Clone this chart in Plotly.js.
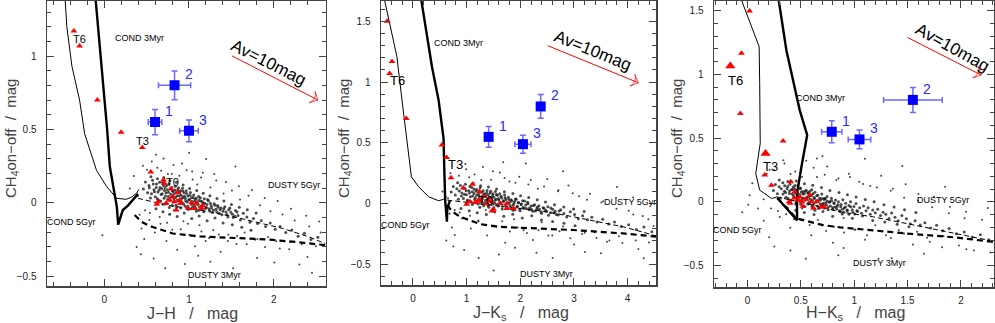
<!DOCTYPE html>
<html>
<head>
<meta charset="utf-8">
<script src="https://cdn.plot.ly/plotly-3.0.1.min.js"></script>
<style>
  html, body { margin: 0; padding: 0; background: #fff; }
  #chart { width: 995px; height: 323px; }
</style>
</head>
<body>
<div id="chart"></div>
<script>
// ---- blue sources 1-3 ----
const srcNames = ['1', '2', '3'];
const srcCH4 = [0.55, 0.80, 0.49];
const srcCH4Err = [0.086, 0.098, 0.074];
const srcJH = [0.60, 0.83, 1.00];
const srcJHErr = [0.08, 0.19, 0.11];
const srcJK = [1.41, 2.38, 2.05];
const srcJKErr = [0.04, 0.07, 0.15];
const srcHK = [0.79, 1.55, 1.05];
const srcHKErr = [0.095, 0.275, 0.106];

// ---- red T dwarf templates ----
const triJH_x = [-0.357, -0.29, -0.08, 0.20, 0.45, 0.55, 0.70, 0.71, 0.79, 0.87, 0.635, 0.62, 0.73, 0.77, 0.81, 0.83, 0.89, 0.90, 0.85, 0.99, 1.03, 1.09, 1.07, 1.15, 1.16];
const triJH_y = [1.17, 1.068, 0.70, 0.48, 0.377, 0.21, 0.155, 0.13, 0.093, 0.07, 0.007, -0.01, -0.004, 0.018, 0.04, 0.007, 0.018, -0.005, -0.05, -0.038, 0.0, -0.004, -0.04, -0.038, -0.02];
const triJK_x = [-0.48, -0.39, -0.435, -0.125, 0.54, 0.63, 0.71, 0.94, 1.11, 1.24, 1.0, 1.06, 1.16, 1.25, 1.32, 1.41, 1.47, 1.38, 1.50, 1.47, 1.63, 1.75, 1.75, 1.87, 1.20];
const triJK_y = [1.50, 1.17, 1.07, 0.70, 0.483, 0.38, 0.214, 0.13, 0.16, 0.10, -0.005, 0.016, 0.01, 0.03, 0.06, 0.03, 0.02, 0.0, -0.046, -0.06, 0.003, 0.003, -0.04, -0.04, 0.02];
const triHK_x = [0.02, -0.056, -0.066, 0.334, 0.162, 0.225, 0.406, 0.443, 0.49, 0.39, 0.40, 0.474, 0.51, 0.584, 0.60, 0.52, 0.65, 0.62, 0.69, 0.72, 0.44, 0.55];
const triHK_y = [1.498, 1.166, 0.694, 0.477, 0.21, 0.13, 0.157, 0.079, 0.04, 0.0, -0.01, 0.013, 0.0, 0.053, 0.0, -0.034, 0.0, -0.05, -0.04, -0.04, 0.03, 0.02];
const triHKbig_x = [-0.16, 0.17];
const triHKbig_y = [1.066, 0.38];

const tNames = ['T6', 'T3', 'T0'];
const tJH_x = [-0.29, 0.45, 0.80];
const tJH_y = [1.115, 0.42, 0.143];
const tJK_x = [-0.28, 0.79, 1.35];
const tJK_y = [1.01, 0.324, 0.03];
const tHK_x = [-0.11, 0.22];
const tHK_y = [0.956, 0.275];

// ---- model tracks [colour, CH4] ----
const cond3JH = [[-0.10, 1.38], [-0.04, 1.0], [0.035, 0.5], [0.067, 0.245], [0.134, 0.04], [0.15, -0.03], [0.165, -0.15], [0.22, -0.05], [0.28, -0.02], [0.34, 0.02], [0.40, 0.06]];
const cond5JH = [[-0.46, 1.38], [-0.44, 1.2], [-0.38, 0.93], [-0.29, 0.70], [-0.23, 0.47], [-0.09, 0.22], [0.03, 0.11], [0.146, 0.03], [0.26, 0.023], [0.32, 0.037], [0.38, 0.064], [0.41, 0.09]];
const dusty5JH = [[0.40, 0.03], [0.73, -0.016], [1.13, -0.05], [1.52, -0.095], [2.1, -0.175], [2.4, -0.23], [2.61, -0.28]];
const dusty3JH = [[0.36, -0.084], [0.44, -0.13], [0.54, -0.16], [0.81, -0.21], [1.13, -0.23], [1.52, -0.24], [1.91, -0.25], [2.3, -0.27], [2.61, -0.29]];

const cond3JK = [[0.155, 1.675], [0.216, 1.51], [0.354, 1.127], [0.477, 0.853], [0.57, 0.538], [0.583, 0.30], [0.60, 0.03], [0.633, -0.148], [0.64, -0.04], [0.69, 0.03]];
const cond5JK = [[-0.53, 1.675], [-0.42, 1.455], [-0.30, 1.21], [-0.205, 0.853], [-0.11, 0.524], [-0.03, 0.222], [0.105, 0.14], [0.29, 0.058], [0.477, 0.025], [0.57, 0.036], [0.63, 0.06]];
const dusty5JK = [[0.64, 0.03], [1.2, 0.0], [1.75, -0.025], [2.4, -0.06], [2.99, -0.107], [3.5, -0.15], [3.92, -0.19], [4.3, -0.235], [4.53, -0.265]];
const dusty3JK = [[0.64, -0.01], [0.72, -0.06], [0.88, -0.107], [1.25, -0.167], [1.6, -0.19], [2.06, -0.2], [2.99, -0.216], [3.92, -0.244], [4.53, -0.27]];

const cond3HK = [[0.293, 1.584], [0.365, 1.19], [0.49, 0.72], [0.56, 0.524], [0.506, 0.275], [0.465, 0.066], [0.465, -0.144], [0.28, 0.03]];
const cond5HK = [[-0.056, 1.584], [0.11, 1.218], [0.115, 0.93], [0.12, 0.459], [0.078, 0.223], [0.115, 0.092], [0.225, 0.027], [0.27, 0.035]];
const dusty5HK = [[0.27, 0.04], [0.553, -0.013], [0.865, -0.078], [1.18, -0.118], [1.49, -0.17], [1.865, -0.236], [2.11, -0.28], [2.31, -0.31]];
const dusty3HK = [[0.28, 0.03], [0.46, -0.13], [0.71, -0.183], [0.87, -0.2], [1.49, -0.248], [1.96, -0.28], [2.31, -0.315]];

const modelNames = ['COND 3Myr', 'COND 5Gyr', 'DUSTY 5Gyr', 'DUSTY 3Myr'];
const modelJH_x = [0.42, -0.38, 2.24, 1.30];
const modelJH_y = [1.12, -0.13, 0.12, -0.49];
const modelJK_x = [0.85, -0.14, 4.05, 2.48];
const modelJK_y = [1.32, -0.175, 0.016, -0.578];
const modelHK_x = [0.68, -0.09, 1.83, 1.24];
const modelHK_y = [0.817, -0.22, 0.013, -0.48];

// ---- reddening vector Av = 10 mag: [tail, head] ----
const avJH = [[1.51, 1.0], [2.52, 0.70]];
const avJK = [[2.51, 1.30], [4.20, 0.995]];
const avHK = [[1.50, 1.29], [2.19, 0.995]];
const avTextJH = [1.934, 0.957];
const avTextJK = [3.345, 1.258];
const avTextHK = [1.918, 1.213];

// ---- field objects: dense band + sparse halo ----
const coreJH = [
  [0.463,0.094],[0.487,0.141],[0.512,0.067],[0.529,0.118],[0.546,0.032],[0.571,0.153],[0.588,0.089],[0.603,0.041],[0.617,0.127],[0.634,0.072],
  [0.641,0.018],[0.659,0.104],[0.672,0.056],[0.688,0.137],[0.694,-0.011],[0.711,0.083],[0.723,0.046],[0.737,0.118],[0.748,0.021],[0.759,0.071],
  [0.768,-0.032],[0.781,0.097],[0.793,0.038],[0.806,0.082],[0.814,0.005],[0.826,0.061],[0.838,0.112],[0.847,-0.018],[0.859,0.047],[0.867,0.089],
  [0.879,0.013],[0.891,0.068],[0.903,-0.037],[0.914,0.028],[0.927,0.079],[0.936,-0.009],[0.948,0.044],[0.961,0.011],[0.973,0.062],[0.985,-0.024],
  [0.997,0.019],[1.012,0.051],[1.023,-0.041],[1.036,0.008],[1.049,0.036],[1.061,-0.017],[1.074,0.024],[1.088,-0.058],[1.097,0.003],[1.113,0.042],
  [1.126,-0.029],[1.139,0.012],[1.152,-0.047],[1.167,-0.006],[1.181,0.027],[1.196,-0.038],[1.211,-0.012],[1.229,0.014],[1.243,-0.053],[1.262,-0.021],
  [1.279,-0.067],[1.297,-0.008],[1.318,-0.044],[1.337,-0.019],[1.356,-0.072],[1.378,-0.036],[1.401,-0.058],[1.423,-0.027],[1.447,-0.081],[1.469,-0.049],
  [1.494,-0.066],[1.522,-0.101],[1.547,-0.053],[1.578,-0.088],[1.606,-0.118],[1.641,-0.072],[1.683,-0.097],[1.719,-0.134],[1.761,-0.108],[1.809,-0.142],
  [1.852,-0.121],[1.903,-0.163],[1.958,-0.139],[2.017,-0.181],[2.074,-0.162],[2.141,-0.203],[2.213,-0.187],[2.287,-0.229],[2.361,-0.208],[2.439,-0.251],
  [2.52,-0.236],[0.552,0.176],[0.628,0.163],[0.703,0.171],[0.776,0.149],[0.852,0.139],[0.931,0.121],[1.008,0.097],[1.092,0.083],[1.168,0.064],
  [1.247,0.048],[1.331,0.029],[1.412,0.011],[1.501,-0.012],[1.593,-0.031],[1.688,-0.049],[1.792,-0.071],[0.611,-0.042],[0.693,-0.061],[0.772,-0.079],
  [0.861,-0.094],[0.944,-0.071],[1.033,-0.108],[1.121,-0.091],[1.214,-0.123],[1.307,-0.104],[1.402,-0.139],[1.511,-0.151],[1.623,-0.167],[1.731,-0.188],
  [0.532,0.102],[0.558,0.061],[0.579,0.127],[0.593,0.074],[0.614,0.103],[0.626,0.027],[0.648,0.086],[0.653,0.139],[0.667,0.012],[0.679,0.095],
  [0.684,0.061],[0.699,0.117],[0.706,0.031],[0.718,0.102],[0.729,0.067],[0.741,-0.006],[0.746,0.089],[0.757,0.043],[0.764,0.129],[0.777,0.016],
  [0.786,0.058],[0.797,0.103],[0.802,-0.019],[0.811,0.077],[0.822,0.027],[0.833,0.087],[0.841,0.036],[0.851,0.071],[0.856,-0.031],[0.864,0.019],
  [0.876,0.101],[0.883,0.047],[0.896,-0.006],[0.899,0.081],[0.909,0.051],[0.918,0.002],[0.924,0.099],[0.931,0.036],[0.943,0.067],[0.952,-0.022],
  [0.958,0.029],[0.967,0.081],[0.979,0.004],[0.988,0.046],[0.993,-0.047],[1.006,0.022],[1.017,0.069],[1.027,-0.011],[1.031,0.033],[1.044,-0.029],
  [1.056,0.052],[1.067,0.009],[1.079,-0.036],[1.084,0.031],[1.103,-0.014],[1.118,0.016],[1.121,-0.052],[1.134,0.034],[1.147,-0.024],[1.158,0.007],
  [1.173,-0.061],[1.186,-0.004],[1.204,-0.031],[1.219,0.021],[1.236,-0.042],[1.252,-0.003],[1.268,-0.037],[1.288,-0.051],[1.306,-0.017],[1.327,-0.062],
  [1.345,-0.031],[1.367,-0.049],[1.389,-0.083],[1.412,-0.041],[1.437,-0.064],[1.458,-0.098],[1.482,-0.037],[1.513,-0.078],[1.538,-0.092],[1.567,-0.063]
];
const haloJH = [
  [0.397,0.046],[0.418,-0.083],[0.441,-0.176],[0.473,-0.247],[0.506,0.224],[0.533,-0.118],[0.562,0.281],[0.597,-0.203],[0.628,0.238],[0.664,-0.143],
  [0.701,0.302],[0.734,-0.262],[0.752,0.196],[0.803,-0.184],[0.818,0.257],[0.862,-0.321],[0.887,0.183],[0.934,-0.127],[0.972,0.221],[1.004,-0.218],
  [1.043,0.158],[1.071,-0.297],[1.098,0.124],[1.124,-0.153],[1.163,0.204],[1.197,-0.262],[1.253,0.103],[1.286,-0.187],[1.322,0.151],[1.374,-0.334],
  [1.408,0.062],[1.463,-0.219],[1.507,0.083],[1.561,-0.281],[1.602,0.021],[1.657,-0.203],[1.703,0.047],[1.782,-0.252],[1.838,-0.017],[1.897,-0.302],
  [1.961,-0.058],[2.029,-0.263],[2.103,-0.081],[2.182,-0.318],[2.247,-0.121],[2.331,-0.283],[2.418,-0.162],[2.497,-0.297],[2.553,-0.203],[0.383,-0.302],
  [0.584,-0.381],[0.951,-0.418],[1.252,-0.402],[1.804,-0.377],[2.303,-0.421],[0.302,0.097],[-0.021,-0.222],[2.451,-0.478],[1.548,0.247],[1.203,0.298],
  [0.352,0.182],[0.482,-0.052],[0.539,-0.071],[0.655,-0.098],[0.742,-0.137],[0.821,-0.052],[0.903,-0.181],[0.987,-0.143],[1.065,-0.228],[1.146,-0.196],
  [1.238,-0.241],[1.352,-0.217],[1.458,-0.261],[1.567,-0.227],[1.681,-0.283],[1.806,-0.248],[1.932,-0.234],[2.071,-0.312],[2.194,-0.268],[0.672,0.218],
  [0.798,0.196],[0.917,0.268],[1.037,0.212],[1.143,0.172],[1.298,0.196],[1.437,0.141],[1.588,0.112],[1.741,0.087],[1.893,0.032],[2.046,0.011],
  [2.203,-0.042],[2.382,-0.089],[2.536,-0.128],[0.457,0.251],[0.611,0.327],[1.002,0.341],[0.433,-0.351],[0.721,-0.447],[1.109,-0.362],[1.521,-0.447],
  [2.007,-0.407],[2.398,-0.371]
];
const coreJK = [
  [0.713,0.097],[0.752,0.142],[0.789,0.071],[0.817,0.123],[0.846,0.036],[0.884,0.151],[0.912,0.088],[0.941,0.043],[0.968,0.126],[0.997,0.074],
  [1.012,0.021],[1.043,0.106],[1.069,0.058],[1.096,0.133],[1.108,-0.007],[1.139,0.084],[1.162,0.049],[1.188,0.117],[1.207,0.024],[1.228,0.072],
  [1.246,-0.028],[1.271,0.095],[1.293,0.041],[1.318,0.083],[1.333,0.008],[1.357,0.063],[1.381,0.109],[1.398,-0.014],[1.421,0.048],[1.437,0.089],
  [1.461,0.015],[1.484,0.067],[1.507,-0.033],[1.529,0.029],[1.553,0.077],[1.571,-0.006],[1.594,0.043],[1.619,0.012],[1.642,0.061],[1.665,-0.021],
  [1.689,0.019],[1.718,0.049],[1.739,-0.038],[1.764,0.007],[1.789,0.034],[1.813,-0.016],[1.838,0.022],[1.864,-0.054],[1.882,0.002],[1.913,0.039],
  [1.938,-0.027],[1.963,0.011],[1.988,-0.044],[2.017,-0.006],[2.044,0.024],[2.073,-0.036],[2.102,-0.011],[2.137,0.012],[2.164,-0.049],[2.201,-0.019],
  [2.234,-0.061],[2.268,-0.008],[2.309,-0.041],[2.346,-0.017],[2.383,-0.066],[2.426,-0.033],[2.471,-0.053],[2.514,-0.025],[2.561,-0.074],[2.604,-0.046],
  [2.652,-0.061],[2.707,-0.093],[2.754,-0.049],[2.813,-0.081],[2.867,-0.108],[2.933,-0.066],[3.012,-0.089],[3.081,-0.123],[3.162,-0.099],[3.253,-0.131],
  [3.334,-0.111],[3.431,-0.149],[3.537,-0.128],[3.648,-0.166],[3.757,-0.149],[3.884,-0.187],[4.021,-0.172],[4.163,-0.211],[4.305,-0.192],[4.452,-0.231],
  [0.832,0.172],[0.977,0.161],[1.121,0.168],[1.261,0.147],[1.406,0.138],[1.558,0.121],[1.703,0.098],[1.862,0.084],[2.006,0.066],[2.157,0.051],
  [2.316,0.032],[2.469,0.014],[2.638,-0.008],[2.812,-0.027],[2.993,-0.044],[3.191,-0.063],[0.894,-0.039],[1.049,-0.057],[1.198,-0.074],[1.367,-0.089],
  [1.524,-0.067],[1.693,-0.103],[1.861,-0.087],[2.037,-0.118],[2.214,-0.099],[2.394,-0.134],[2.603,-0.146],[2.815,-0.161],[3.021,-0.181],
  [0.861,0.104],[0.903,0.063],[0.934,0.129],[0.958,0.078],[0.991,0.107],[1.014,0.031],[1.052,0.089],[1.061,0.141],[1.083,0.016],[1.104,0.098],
  [1.113,0.064],[1.138,0.121],[1.149,0.034],[1.171,0.104],[1.189,0.069],[1.211,-0.002],[1.219,0.091],[1.238,0.046],[1.251,0.131],[1.274,0.019],
  [1.289,0.061],[1.308,0.106],[1.317,-0.016],[1.333,0.079],[1.352,0.029],[1.372,0.089],[1.386,0.038],[1.404,0.073],[1.413,-0.028],[1.427,0.021],
  [1.449,0.103],[1.462,0.049],[1.486,-0.004],[1.491,0.083],[1.509,0.053],[1.526,0.004],[1.537,0.101],[1.549,0.038],[1.571,0.069],[1.588,-0.019],
  [1.599,0.031],[1.616,0.083],[1.638,0.006],[1.654,0.048],[1.663,-0.044],[1.687,0.024],[1.707,0.071],[1.726,-0.008],[1.733,0.035],[1.757,-0.027],
  [1.779,0.054],[1.799,0.011],[1.821,-0.034],[1.831,0.033],[1.866,-0.012],[1.894,0.018],[1.899,-0.049],[1.923,0.036],[1.947,-0.021],[1.968,0.009],
  [1.996,-0.058],[2.02,-0.002],[2.053,-0.029],[2.081,0.023],[2.113,-0.039],[2.143,-0.001],[2.173,-0.034],[2.21,-0.048],[2.243,-0.014],[2.282,-0.059],
  [2.316,-0.028],[2.357,-0.046],[2.398,-0.079],[2.441,-0.038],[2.487,-0.061],[2.526,-0.094],[2.571,-0.034],[2.628,-0.075],[2.674,-0.089],[2.728,-0.06]
];
const haloJK = [
  [0.653,0.046],[0.682,-0.083],[0.724,-0.196],[0.779,-0.257],[0.857,0.231],[0.913,-0.122],[0.992,0.283],[1.078,-0.203],[1.148,0.241],[1.223,-0.143],
  [1.304,0.302],[1.381,-0.262],[1.456,0.198],[1.553,-0.184],[1.618,0.257],[1.719,-0.321],[1.797,0.183],[1.884,-0.127],[1.981,0.221],[2.063,-0.218],
  [2.151,0.158],[2.237,-0.297],[2.327,0.124],[2.398,-0.153],[2.503,0.204],[2.597,-0.262],[2.703,0.103],[2.798,-0.187],[2.897,0.151],[3.004,-0.334],
  [3.097,0.062],[3.203,-0.239],[3.298,0.083],[3.421,-0.281],[3.547,0.021],[3.661,-0.303],[3.784,0.047],[3.903,-0.322],[4.021,-0.058],[4.152,-0.303],
  [4.283,-0.101],[4.397,-0.318],[4.483,-0.183],[0.621,-0.302],[0.953,-0.381],[1.602,-0.418],[2.301,-0.402],[3.204,-0.397],[4.302,-0.448],[0.548,0.101],
  [0.203,-0.198],[1.504,-0.548],[2.797,0.268],[2.103,0.331],[0.602,0.182],[3.802,0.138],[4.103,0.052],[0.781,-0.052],[0.872,-0.071],[1.063,-0.098],
  [1.217,-0.137],[1.358,-0.052],[1.513,-0.181],[1.662,-0.143],[1.807,-0.228],[1.953,-0.196],[2.124,-0.241],[2.339,-0.217],[2.524,-0.261],[2.731,-0.227],
  [2.932,-0.283],[3.154,-0.248],[3.382,-0.234],[3.617,-0.312],[3.839,-0.268],[1.048,0.218],[1.273,0.196],[1.491,0.268],[1.707,0.212],[1.911,0.172],
  [2.197,0.196],[2.443,0.141],[2.711,0.112],[2.978,0.087],[3.244,0.032],[3.512,0.011],[3.793,-0.042],[4.107,-0.089],[4.388,-0.128],[0.697,0.251],
  [0.978,0.327],[1.682,0.341],[0.753,-0.351],[1.224,-0.447],[1.901,-0.362],[2.603,-0.447],[3.502,-0.407],[4.201,-0.371]
];
const coreHK = [
  [0.243,0.089],[0.262,0.137],[0.281,0.063],[0.297,0.118],[0.311,0.031],[0.332,0.149],[0.347,0.084],[0.361,0.036],[0.377,0.121],[0.393,0.066],
  [0.401,0.012],[0.418,0.097],[0.431,0.048],[0.446,0.128],[0.452,-0.016],[0.469,0.074],[0.481,0.038],[0.496,0.108],[0.507,0.013],[0.519,0.061],
  [0.528,-0.039],[0.542,0.084],[0.554,0.029],[0.568,0.071],[0.576,-0.004],[0.589,0.049],[0.603,0.096],[0.612,-0.027],[0.624,0.034],[0.633,0.076],
  [0.646,0.001],[0.659,0.052],[0.671,-0.049],[0.683,0.012],[0.697,0.061],[0.707,-0.023],[0.719,0.026],[0.733,-0.006],[0.746,0.043],[0.758,-0.041],
  [0.771,0.001],[0.787,0.029],[0.799,-0.058],[0.812,-0.013],[0.826,0.014],[0.839,-0.037],[0.853,0.001],[0.867,-0.076],[0.877,-0.021],[0.894,0.017],
  [0.907,-0.049],[0.921,-0.011],[0.934,-0.067],[0.951,-0.029],[0.966,0.001],[0.982,-0.061],[0.998,-0.036],[1.017,-0.013],[1.032,-0.076],[1.052,-0.046],
  [1.069,-0.089],[1.088,-0.033],[1.111,-0.069],[1.131,-0.046],[1.151,-0.098],[1.174,-0.063],[1.198,-0.086],[1.221,-0.058],[1.247,-0.107],[1.271,-0.081],
  [1.297,-0.098],[1.326,-0.131],[1.351,-0.088],[1.383,-0.121],[1.412,-0.149],[1.447,-0.107],[1.489,-0.133],[1.526,-0.171],[1.571,-0.148],[1.619,-0.182],
  [1.663,-0.163],[1.716,-0.206],[1.772,-0.184],[1.831,-0.227],[1.889,-0.209],[1.957,-0.251],[2.031,-0.236],[2.106,-0.277],[2.182,-0.258],[2.262,-0.298],
  [0.299,0.171],[0.379,0.159],[0.458,0.163],[0.534,0.142],[0.612,0.131],[0.694,0.113],[0.773,0.089],[0.858,0.074],[0.937,0.056],[1.018,0.039],
  [1.104,0.019],[1.187,0.001],[1.279,-0.022],[1.374,-0.041],[1.472,-0.061],[1.578,-0.083],[0.372,-0.047],[0.453,-0.066],[0.533,-0.084],[0.624,-0.099],
  [0.708,-0.076],[0.798,-0.113],[0.888,-0.096],[0.983,-0.129],[1.078,-0.111],[1.174,-0.147],[1.287,-0.158],[1.403,-0.175],[1.513,-0.196],
  [0.317,0.102],[0.334,0.061],[0.349,0.127],[0.358,0.074],[0.372,0.103],[0.381,0.027],[0.395,0.086],[0.398,0.139],[0.408,0.012],[0.416,0.095],
  [0.419,0.061],[0.429,0.117],[0.434,0.031],[0.442,0.102],[0.449,0.067],[0.457,-0.006],[0.461,0.089],[0.468,0.043],[0.473,0.129],[0.482,0.016],
  [0.488,0.058],[0.495,0.103],[0.499,-0.019],[0.505,0.077],[0.513,0.027],[0.521,0.082],[0.526,0.031],[0.533,0.063],[0.537,-0.036],[0.543,0.012],
  [0.551,0.091],[0.556,0.037],[0.565,-0.016],[0.567,0.069],[0.574,0.039],[0.58,-0.012],[0.585,0.084],[0.589,0.021],[0.598,0.051],[0.604,-0.038],
  [0.608,0.012],[0.614,0.063],[0.623,-0.014],[0.629,0.027],[0.632,-0.066],[0.641,0.001],[0.649,0.047],[0.656,-0.033],[0.659,0.011],[0.668,-0.051],
  [0.676,0.029],[0.684,-0.016],[0.692,-0.031],[0.696,0.026],[0.709,-0.011],[0.719,0.018],[0.721,-0.049],[0.73,0.026],[0.739,-0.023],[0.747,0.007],
  [0.757,-0.061],[0.766,-0.003],[0.778,-0.032],[0.788,0.009],[0.8,-0.044],[0.811,-0.006],[0.822,-0.041],[0.836,-0.056],[0.848,-0.023],[0.862,-0.069],
  [0.874,-0.038],[0.889,-0.057],[0.904,-0.081],[0.919,-0.041],[0.936,-0.064],[0.951,-0.098],[0.967,-0.039],[0.988,-0.081],[1.006,-0.096],[1.026,-0.068]
];
const haloHK = [
  [0.046,0.146],[0.098,-0.053],[0.153,-0.148],[0.204,-0.277],[0.252,0.248],[0.303,-0.118],[0.347,0.301],[0.402,-0.203],[0.448,0.238],[0.503,-0.143],
  [0.551,0.322],[0.598,-0.262],[0.652,0.196],[0.703,-0.184],[0.748,0.277],[0.801,-0.321],[0.853,0.183],[0.902,-0.127],[0.951,0.221],[1.003,-0.218],
  [1.048,0.158],[1.102,-0.297],[1.151,0.124],[1.198,-0.183],[1.253,0.204],[1.297,-0.262],[1.362,0.103],[1.418,-0.221],[1.482,0.138],[1.551,-0.334],
  [1.603,0.062],[1.683,-0.281],[1.748,0.041],[1.823,-0.357],[1.897,-0.038],[1.981,-0.343],[2.048,-0.078],[2.122,-0.381],[2.198,-0.141],[2.277,-0.397],
  [0.021,0.052],[0.181,0.221],[0.403,-0.381],[0.852,-0.418],[1.351,-0.442],[1.852,0.118],[1.101,0.338],[0.703,0.358],[-0.048,-0.081],[1.451,0.281],
  [2.252,-0.048],[0.221,-0.052],[0.286,-0.071],[0.363,-0.098],[0.437,-0.137],[0.512,-0.052],[0.583,-0.181],[0.661,-0.143],[0.737,-0.228],[0.812,-0.196],
  [0.906,-0.241],[1.012,-0.217],[1.121,-0.261],[1.233,-0.227],[1.344,-0.283],[1.467,-0.248],[1.589,-0.234],[1.708,-0.312],[1.837,-0.268],[0.404,0.218],
  [0.512,0.196],[0.621,0.268],[0.724,0.212],[0.833,0.172],[0.961,0.196],[1.084,0.141],[1.212,0.112],[1.343,0.087],[1.468,0.032],[1.597,0.011],
  [1.731,-0.042],[1.887,-0.089],[2.034,-0.128],[0.208,0.251],[0.337,0.327],[0.651,0.341],[0.252,-0.351],[0.547,-0.447],[0.902,-0.362],[1.228,-0.447],
  [1.653,-0.407],[2.051,-0.371],[0.152,0.021],[0.008,-0.022]
];

const FONT = 'Liberation Sans, Arial, Helvetica, sans-serif';
const xs = a => a.map(p => p[0]);
const ys = a => a.map(p => p[1]);

const panels = [
  { xa: 'x', ya: 'y', core: coreJH, halo: haloJH, cond3: cond3JH, cond5: cond5JH, dusty3: dusty3JH, dusty5: dusty5JH,
    triX: triJH_x, triY: triJH_y, tX: tJH_x, tY: tJH_y, tSize: 11,
    srcX: srcJH, srcXErr: srcJHErr, mX: modelJH_x, mY: modelJH_y, av: avJH, avText: avTextJH, avAngle: 27 },
  { xa: 'x2', ya: 'y2', core: coreJK, halo: haloJK, cond3: cond3JK, cond5: cond5JK, dusty3: dusty3JK, dusty5: dusty5JK,
    triX: triJK_x, triY: triJK_y, tX: tJK_x, tY: tJK_y, tSize: 13,
    srcX: srcJK, srcXErr: srcJKErr, mX: modelJK_x, mY: modelJK_y, av: avJK, avText: avTextJK, avAngle: 22 },
  { xa: 'x3', ya: 'y3', core: coreHK, halo: haloHK, cond3: cond3HK, cond5: cond5HK, dusty3: dusty3HK, dusty5: dusty5HK,
    triX: triHK_x, triY: triHK_y, tX: tHK_x, tY: tHK_y, tSize: 13,
    srcX: srcHK, srcXErr: srcHKErr, mX: modelHK_x, mY: modelHK_y, av: avHK, avText: avTextHK, avAngle: 29 }
];

const traces = [];
const annotations = [];

function line(p, pts, width, dash) {
  return { type: 'scatter', mode: 'lines', x: xs(pts), y: ys(pts), xaxis: p.xa, yaxis: p.ya,
           line: { color: '#000', width: width, dash: dash }, hoverinfo: 'skip' };
}

panels.forEach(p => {
  traces.push({ type: 'scatter', mode: 'markers', x: xs(p.halo), y: ys(p.halo), xaxis: p.xa, yaxis: p.ya,
                marker: { size: 2, color: '#222', opacity: 0.85 }, hoverinfo: 'skip' });
  traces.push({ type: 'scatter', mode: 'markers', x: xs(p.core), y: ys(p.core), xaxis: p.xa, yaxis: p.ya,
                marker: { size: 3, color: '#111', opacity: 0.75 }, hoverinfo: 'skip' });
  traces.push(line(p, p.cond5, 1, 'solid'));
  traces.push(line(p, p.cond3, 2.4, 'solid'));
  traces.push(line(p, p.dusty5, 1, '5px,3px'));
  traces.push(line(p, p.dusty3, 2.2, '6px,4px'));
  traces.push({ type: 'scatter', mode: 'markers', x: p.triX, y: p.triY, xaxis: p.xa, yaxis: p.ya,
                marker: { symbol: 'triangle-up', size: 6, color: '#ff0000' }, hoverinfo: 'skip' });
  traces.push({ type: 'scatter', mode: 'markers', x: p.srcX, y: srcCH4, xaxis: p.xa, yaxis: p.ya,
                error_x: { type: 'data', array: p.srcXErr, color: '#6a6aff', thickness: 1.5, width: 3 },
                error_y: { type: 'data', array: srcCH4Err, color: '#6a6aff', thickness: 1.5, width: 3 },
                marker: { symbol: 'square', size: 10, color: '#0000ff' }, hoverinfo: 'skip' });
  // reddening arrow: shaft plus an open head oriented along the shaft
  traces.push({ type: 'scatter', mode: 'lines+markers', x: xs(p.av), y: ys(p.av), xaxis: p.xa, yaxis: p.ya,
                line: { color: '#ff0000', width: 1 },
                marker: { symbol: 'arrow-wide-open', size: [0, 9], angleref: 'previous', color: '#ff0000',
                          line: { color: '#ff0000', width: 1 } },
                hoverinfo: 'skip' });

  p.tX.forEach((x, i) => annotations.push({ xref: p.xa, yref: p.ya, x: x, y: p.tY[i], text: tNames[i],
    showarrow: false, font: { size: p.tSize, color: '#000' } }));
  p.mX.forEach((x, i) => annotations.push({ xref: p.xa, yref: p.ya, x: x, y: p.mY[i], text: modelNames[i],
    showarrow: false, font: { size: 9, color: '#000' } }));
  p.srcX.forEach((x, i) => annotations.push({ xref: p.xa, yref: p.ya, x: x, y: srcCH4[i], text: srcNames[i],
    showarrow: false, xshift: 14, yshift: 11, font: { size: 14, color: '#2a2aff' } }));
  annotations.push({ xref: p.xa, yref: p.ya, x: p.avText[0], y: p.avText[1], text: 'Av=10mag',
    showarrow: false, textangle: p.avAngle, font: { size: 17, color: '#000' } });
});

// big triangles in H-Ks panel
traces.push({ type: 'scatter', mode: 'markers', x: triHKbig_x, y: triHKbig_y, xaxis: 'x3', yaxis: 'y3',
              marker: { symbol: 'triangle-up', size: 9, color: '#ff0000' }, hoverinfo: 'skip' });

// axis titles
const nb = '\u00a0';
const sep3 = nb + nb + nb + '/' + nb + nb + nb;
const sep2 = nb + nb + '/' + nb + nb;
const xTitles = ['J−H' + sep3 + 'mag', 'J−K<sub>s</sub>' + sep3 + 'mag', 'H−K<sub>s</sub>' + sep3 + 'mag'];
const xTitlePos = [192, 521, 855];
const yTitlePos = [11, 344, 677];
xTitles.forEach((t, i) => {
  annotations.push({ xref: 'paper', yref: 'paper', x: xTitlePos[i] / 995, y: 1 - 313 / 323, text: t,
    showarrow: false, font: { size: 16, color: '#444' }, xanchor: 'center', yanchor: 'middle' });
  annotations.push({ xref: 'paper', yref: 'paper', x: yTitlePos[i] / 995, y: 1 - 139 / 323,
    text: 'CH<sub>4</sub>on−off' + sep2 + 'mag', textangle: -90,
    showarrow: false, font: { size: 15, color: '#444' }, xanchor: 'center', yanchor: 'middle' });
});

function axis(range, dtick, minorDtick, domain, anchor, isY) {
  return {
    domain: domain, anchor: anchor, range: range, dtick: dtick, tick0: 0,
    ticks: 'inside', ticklen: 7, tickwidth: 1, tickcolor: '#444',
    showline: true, linecolor: '#444', linewidth: 1.5, mirror: 'allticks',
    showgrid: false, zeroline: false, fixedrange: true,
    ticklabelstandoff: isY ? 7 : 3,
    tickfont: { size: 10, color: '#222' },
    minor: { dtick: minorDtick, tick0: 0, ticks: 'inside', ticklen: 4, tickwidth: 1, tickcolor: '#444', showgrid: false }
  };
}

const layout = {
  width: 995, height: 323,
  margin: { l: 0, r: 0, t: 0, b: 0 },
  paper_bgcolor: '#fff', plot_bgcolor: '#fff',
  showlegend: false,
  font: { family: FONT, color: '#000' },
  xaxis: axis([-0.674, 2.61], 1, 0.2, [47 / 995, 325.5 / 995], 'y', false),
  yaxis: axis([-0.568, 1.375], 0.5, 0.1, [1 - 286 / 323, 1 - 1 / 323], 'x', true),
  xaxis2: axis([-0.596, 4.53], 1, 0.2, [381 / 995, 656 / 995], 'y2', false),
  yaxis2: axis([-0.668, 1.667], 0.5, 0.1, [1 - 285 / 323, 1 - 1 / 323], 'x2', true),
  xaxis3: axis([-0.313, 2.31], 0.5, 0.1, [714 / 995, 994 / 995], 'y3', false),
  yaxis3: axis([-0.668, 1.576], 0.5, 0.1, [1 - 287 / 323, 1 - 1 / 323], 'x3', true),
  annotations: annotations
};

Plotly.newPlot('chart', traces, layout, { displayModeBar: false, staticPlot: true });
</script>
</body>
</html>
